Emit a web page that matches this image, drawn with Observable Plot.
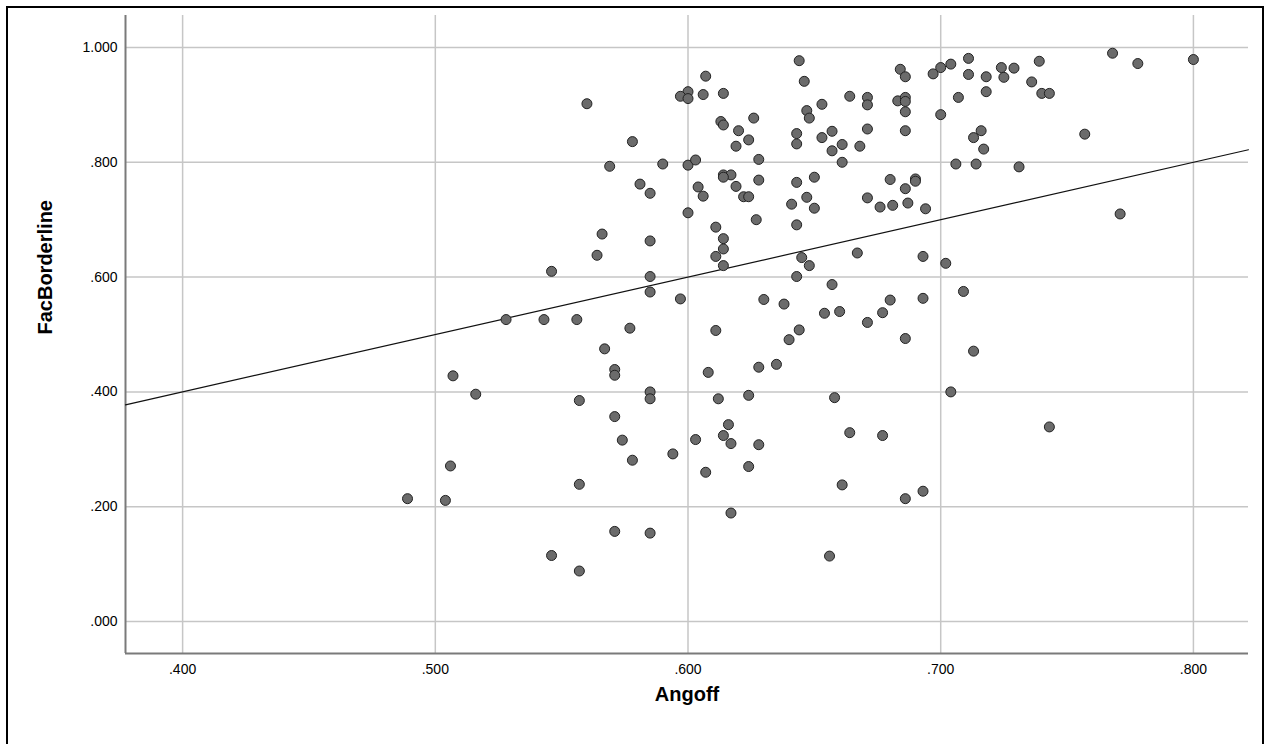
<!DOCTYPE html>
<html>
<head>
<meta charset="utf-8">
<script src="https://cdn.jsdelivr.net/npm/d3@7"></script>
<script src="https://cdn.jsdelivr.net/npm/@observablehq/plot@0.6"></script>
<style>
  html, body { margin: 0; padding: 0; background: #fff; overflow: hidden; }
  #wrap { position: relative; width: 1265px; height: 744px; }
  #border { position: absolute; left: 6px; top: 6px; width: 1254px; height: 800px; border: 2px solid #000; pointer-events: none; }
</style>
</head>
<body>
<div id="wrap"><div id="chart"></div><div id="border"></div></div>
<script>
// Angoff (x) values
const angoff = [
  0.560,0.578,0.569,0.581,0.585,
  0.644,0.607,0.646,0.600,0.597,0.600,0.606,0.614,0.664,0.653,0.647,0.648,0.613,0.614,0.626,
  0.620,0.624,0.619,0.643,0.643,0.657,0.653,0.661,0.668,0.657,0.661,0.590,0.600,0.603,0.628,
  0.614,0.617,0.614,0.619,0.628,0.604,0.606,0.622,0.624,0.643,0.650,0.647,0.641,0.650,0.600,0.627,
  0.711,0.704,0.700,0.697,0.684,0.686,0.711,0.718,0.724,0.729,0.725,0.739,0.736,0.718,0.740,0.743,
  0.671,0.671,0.683,0.686,0.686,0.686,0.707,0.700,0.671,0.686,0.716,0.713,0.717,0.706,0.714,0.731,
  0.680,0.690,0.690,0.686,0.671,0.676,0.681,0.687,0.694,
  0.768,0.778,0.800,0.757,0.771,
  0.566,0.564,0.585,0.546,0.585,0.585,0.528,0.543,0.556,0.577,0.567,0.571,0.571,0.507,0.516,0.557,
  0.585,0.585,0.571,
  0.611,0.643,0.614,0.614,0.611,0.614,0.597,0.645,0.648,0.643,0.667,0.657,0.630,0.638,0.654,0.660,
  0.611,0.644,0.640,0.608,0.628,0.635,0.612,0.624,0.658,
  0.693,0.702,0.709,0.680,0.693,0.677,0.671,0.686,0.713,0.704,
  0.574,0.578,0.506,0.557,0.504,0.571,0.585,0.546,0.557,
  0.616,0.614,0.617,0.603,0.594,0.607,0.624,0.628,0.664,0.661,0.617,0.656,
  0.677,0.693,0.686,0.743,
  0.489
];
// FacBorderline (y) values
const facBorderline = [
  0.902,0.836,0.793,0.762,0.746,
  0.977,0.950,0.941,0.923,0.915,0.911,0.918,0.920,0.915,0.901,0.890,0.877,0.871,0.865,0.877,
  0.855,0.839,0.828,0.850,0.832,0.854,0.843,0.831,0.828,0.820,0.800,0.797,0.795,0.804,0.805,
  0.778,0.778,0.774,0.758,0.769,0.757,0.741,0.740,0.740,0.765,0.774,0.739,0.727,0.720,0.712,0.700,
  0.981,0.971,0.965,0.954,0.962,0.949,0.953,0.949,0.965,0.964,0.948,0.976,0.940,0.923,0.920,0.920,
  0.913,0.900,0.907,0.913,0.906,0.888,0.913,0.883,0.858,0.855,0.855,0.843,0.823,0.797,0.797,0.792,
  0.770,0.771,0.767,0.754,0.738,0.722,0.725,0.729,0.719,
  0.990,0.972,0.979,0.849,0.710,
  0.675,0.638,0.663,0.610,0.601,0.574,0.526,0.526,0.526,0.511,0.475,0.439,0.429,0.428,0.396,0.385,
  0.400,0.388,0.357,
  0.687,0.691,0.667,0.649,0.636,0.620,0.562,0.634,0.620,0.601,0.642,0.587,0.561,0.553,0.537,0.540,
  0.507,0.508,0.491,0.434,0.443,0.448,0.388,0.394,0.390,
  0.636,0.624,0.575,0.560,0.563,0.538,0.521,0.493,0.471,0.400,
  0.316,0.281,0.271,0.239,0.211,0.157,0.154,0.115,0.088,
  0.343,0.324,0.310,0.317,0.292,0.260,0.270,0.308,0.329,0.238,0.189,0.114,
  0.324,0.227,0.214,0.339,
  0.214
];
const xTicks = [0.4, 0.5, 0.6, 0.7, 0.8];
const yTicks = [0, 0.2, 0.4, 0.6, 0.8, 1.0];
const xDomain = [0.3774, 0.8218];
const yDomain = [-0.0557, 1.0557];
// linear fit line (intercept, slope)
const fitIntercept = 0.0;
const fitSlope = 1.0;

const points = angoff.map((a, i) => ({x: a, y: facBorderline[i]}));
const fitLine = xDomain.map(x => ({x, y: fitIntercept + fitSlope * x}));
const fmt = v => d3.format(".3f")(v).replace(/^0\./, ".");

const chart = Plot.plot({
  width: 1265,
  height: 744,
  marginLeft: 125,
  marginRight: 17,
  marginTop: 15,
  marginBottom: 91,
  style: {fontFamily: "'Liberation Sans', Arial, sans-serif", fontSize: "14px", background: "#fff", color: "#000"},
  x: {domain: xDomain, label: null},
  y: {domain: yDomain, label: null},
  marks: [
    Plot.gridX(xTicks, {stroke: "#c6c6c6", strokeOpacity: 1, strokeWidth: 1.5}),
    Plot.gridY(yTicks, {stroke: "#c6c6c6", strokeOpacity: 1, strokeWidth: 1.5}),
    Plot.axisX(xTicks, {tickSize: 0, tickPadding: 11, tickFormat: fmt, label: null, fontSize: 14}),
    Plot.axisY(yTicks, {tickSize: 0, tickPadding: 8, tickFormat: fmt, label: null, fontSize: 14}),
    Plot.ruleX([xDomain[0]], {stroke: "#7a7a7a", strokeWidth: 2}),
    Plot.ruleY([yDomain[0]], {stroke: "#7a7a7a", strokeWidth: 2}),
    Plot.line(fitLine, {x: "x", y: "y", stroke: "#111", strokeWidth: 1.2}),
    Plot.dot(points, {x: "x", y: "y", r: 5, fill: "#6b6b6b", stroke: "#222", strokeWidth: 1, fillOpacity: 1}),
    Plot.text(["Angoff"], {frameAnchor: "bottom", dy: 47, fontSize: 20, fontWeight: "bold"}),
    Plot.text(["FacBorderline"], {frameAnchor: "left", dx: -80, rotate: -90, fontSize: 20, fontWeight: "bold"})
  ]
});
document.getElementById("chart").appendChild(chart);
</script>
</body>
</html>
